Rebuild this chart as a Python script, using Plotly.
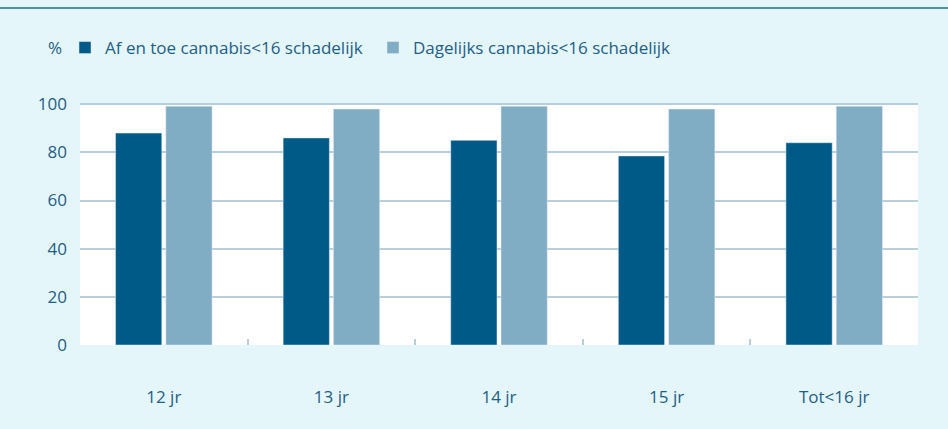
import plotly.graph_objects as go

categories = ["12 jr", "13 jr", "14 jr", "15 jr", "Tot<16 jr"]
af_en_toe = [88, 86, 85, 78.5, 84]
dagelijks = [99.2, 98, 99.2, 98, 99.2]
series_names = ["Af en toe cannabis<16 schadelijk", "Dagelijks cannabis<16 schadelijk"]
y_ticks = [0, 20, 40, 60, 80, 100]

dark = "#005a87"
light = "#80adc4"
bg = "#e4f6fa"
txt = "#1f5e86"
grid = "#b7cfdb"

fig = go.Figure()
fig.add_trace(go.Bar(x=categories, y=af_en_toe, name=series_names[0], marker_color=dark))
fig.add_trace(go.Bar(x=categories, y=dagelijks, name=series_names[1], marker_color=light))

fig.update_layout(
    width=948, height=429,
    paper_bgcolor=bg, plot_bgcolor="white",
    margin=dict(l=80, r=30, t=103, b=84),
    barmode="group", bargap=0.40, bargroupgap=0.08,
    font=dict(family="Open Sans", size=17, color=txt),
    showlegend=True,
    legend=dict(orientation="h", xanchor="left", yanchor="middle",
                yref="container", xref="container",
                x=65/948, y=1-48/429,
                font=dict(size=17, color=txt), bgcolor="rgba(0,0,0,0)",
                itemwidth=30, entrywidth=263, entrywidthmode="pixels"),
)
fig.update_xaxes(
    showgrid=False, ticks="inside", tickson="boundaries", ticklen=6,
    tickcolor=grid, tickwidth=1.5, ticklabelstandoff=40, showline=False,
    range=[-0.5, 4.5],
)
fig.update_yaxes(
    range=[0, 100.5], tickvals=y_ticks, showgrid=True, gridcolor=grid, gridwidth=1.8,
    zeroline=False, ticks="", ticklabelstandoff=12, showline=False,
)
fig.add_shape(type="line", xref="paper", yref="paper", x0=-80/838, x1=1+30/838,
              y0=1+(103-8)/242, y1=1+(103-8)/242, line=dict(color="#1c6f91", width=1.5))
fig.add_annotation(text="%", xref="paper", yref="paper", x=-25/838, y=1+(103-48)/242,
                   showarrow=False, font=dict(size=17, color=txt), xanchor="center", yanchor="middle")
fig.write_html("out.html", config={"displayModeBar": False},
               post_script="document.body.style.margin='0';document.body.style.background='%s';" % bg)
